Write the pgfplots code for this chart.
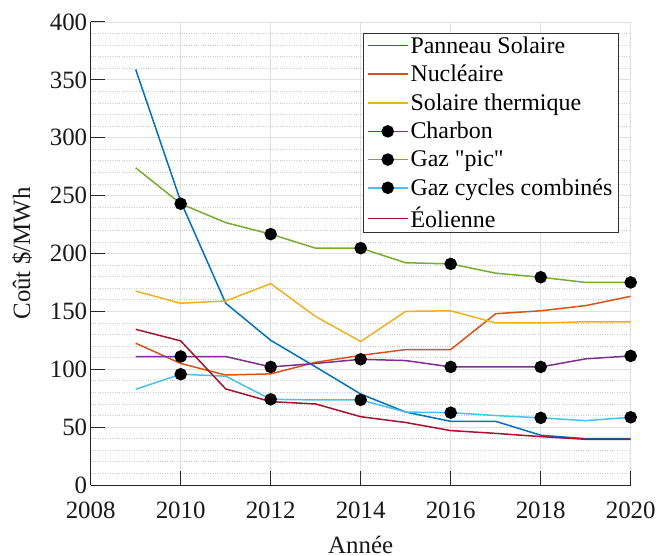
\documentclass[border=0pt]{standalone}
\usepackage{pgfplots}
\pgfplotsset{compat=1.18}
\usepackage{fontspec}
\setmainfont{Liberation Serif}
\newfontfamily\nomap{Liberation Serif}
\definecolor{c1}{rgb}{0,0.447,0.741}
\definecolor{c2}{rgb}{0.85,0.325,0.098}
\definecolor{c3}{rgb}{0.929,0.694,0.125}
\definecolor{c4}{rgb}{0.494,0.184,0.556}
\definecolor{c5}{rgb}{0.466,0.674,0.188}
\definecolor{c6}{rgb}{0.301,0.745,0.933}
\definecolor{c7}{rgb}{0.635,0.078,0.184}
\begin{document}
\begin{tikzpicture}
\begin{axis}[
  name=ax,
  scale only axis,
  width=540bp, height=463bp,
  xmin=2008, xmax=2020, ymin=0, ymax=400,
  xtick={2008,2010,...,2020},
  ytick={0,50,...,400},
  minor y tick num=4,
  axis lines=left,
  axis line style={black!85, line width=1bp, -},
  tick style={black!85, line width=1bp},
  major tick length=14bp,
  minor tick length=0pt,
  tick align=inside,
  grid=both,
  major grid style={black!12, line width=0.8bp},
  minor grid style={black!20, dotted, line width=0.8bp},
  /pgf/number format/assume math mode=true,
  /pgf/number format/1000 sep={},
  ticklabel style={font=\fontsize{25}{30}\selectfont, black!90},
  xticklabel style={yshift=-13bp},
  xlabel={Année},
  ylabel={Coût \$/MWh},
  label style={font=\fontsize{25}{30}\selectfont, black!90},
  xlabel style={at={(axis description cs:0.5,-0.147)}, anchor=base, inner sep=0pt},
  ylabel style={at={(axis description cs:-0.127,0.5)}, anchor=center},
  legend cell align=left,
  legend style={at={(axis description cs:0.978,0.976)}, anchor=north east,
    font=\fontsize{24}{26}\selectfont, draw=black!80, line width=1bp, fill=white,
    inner xsep=4bp, inner ysep=1bp, row sep=6.5bp,
    /tikz/every even column/.append style={column sep=3bp}},
  legend image code/.code={\draw[mark repeat=2,mark phase=2,#1,line width=1.5bp] plot coordinates {(0bp,0bp) (20bp,0bp) (40bp,0bp)};},
  every axis plot/.append style={line width=1.5bp},
  mark options={solid, fill=black, draw=black},
]
\addplot[c1] coordinates {(2009,359) (2010,245) (2011,157) (2012,125) (2013,102) (2014,78.6) (2015,63) (2016,55) (2017,55) (2018,43) (2019,40) (2020,40)};
\addlegendentry{Panneau Solaire}
\addplot[c2] coordinates {(2009,122.5) (2010,105) (2011,95) (2012,96) (2013,106) (2014,112) (2015,117) (2016,117) (2017,148) (2018,150.5) (2019,155) (2020,163)};
\addlegendentry{Nucléaire}
\addplot[c3] coordinates {(2009,167.5) (2010,157) (2011,159) (2012,174) (2013,145.5) (2014,124) (2015,150) (2016,150.5) (2017,140) (2018,140) (2019,141) (2020,141)};
\addlegendentry{Solaire thermique}
\addplot[c4, mark=*, mark size=5.5bp, mark repeat=2, mark phase=2] coordinates {(2009,111) (2010,111) (2011,111) (2012,102) (2013,105) (2014,108.6) (2015,107.5) (2016,102) (2017,102) (2018,102) (2019,109) (2020,111.5)};
\addlegendentry{Charbon}
\addplot[c5, mark=*, mark size=5.5bp, mark repeat=2, mark phase=2] coordinates {(2009,274) (2010,243) (2011,226.7) (2012,216.7) (2013,204.6) (2014,204.6) (2015,192) (2016,191) (2017,183) (2018,179.5) (2019,175) (2020,175)};
\addlegendentry{Gaz {\nomap "pic"}}
\addplot[c6, mark=*, mark size=5.5bp, mark repeat=2, mark phase=2] coordinates {(2009,82.7) (2010,95.7) (2011,94) (2012,74) (2013,73.5) (2014,73.5) (2015,63) (2016,62.5) (2017,60) (2018,58) (2019,55.6) (2020,58.5)};
\addlegendentry{Gaz cycles combinés}
\addplot[c7] coordinates {(2009,134.5) (2010,124.5) (2011,83) (2012,72) (2013,70) (2014,59) (2015,54) (2016,47) (2017,44.6) (2018,41.8) (2019,39.5) (2020,39.5)};
\addlegendentry{Éolienne}
\end{axis}
\pgfresetboundingbox
\path[use as bounding box] ([xshift=-90.7bp,yshift=-71bp]ax.south west) rectangle ([xshift=26.3bp,yshift=22bp]ax.north east);
\end{tikzpicture}
\end{document}
